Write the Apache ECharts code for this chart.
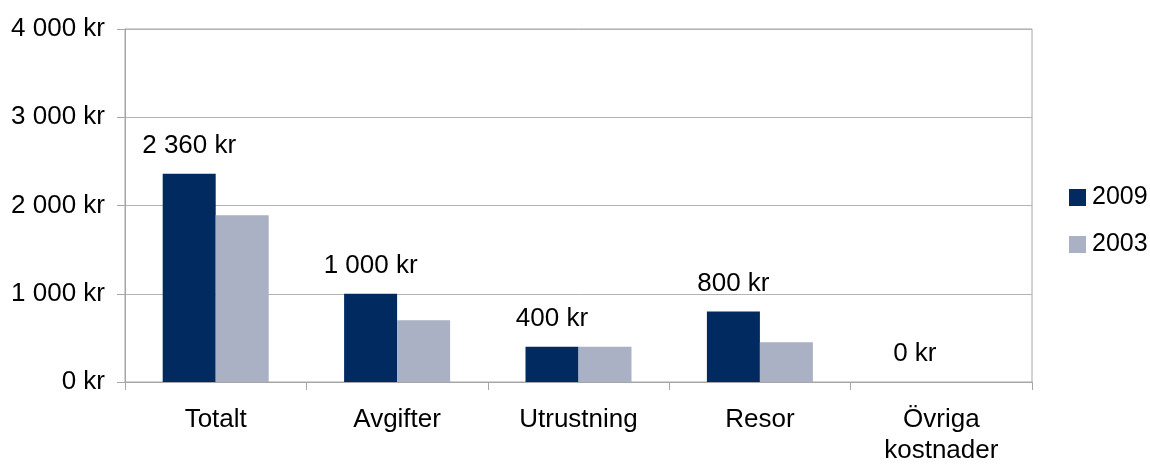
<!DOCTYPE html>
<html>
<head>
<meta charset="utf-8">
<script src="https://cdn.jsdelivr.net/npm/echarts@6/dist/echarts.min.js"></script>
<style>
  html, body { margin: 0; padding: 0; background: #fff; }
  #chart { width: 1150px; height: 466px; }
</style>
</head>
<body>
<div id="chart"></div>
<script>
// data
var categories = ['Totalt', 'Avgifter', 'Utrustning', 'Resor', 'Övriga\nkostnader'];
var seriesNames = ['2009', '2003'];
var values2009 = [2360, 1000, 400, 800, 0];
var values2003 = [1890, 700, 400, 450, 0];
var yTicks = [0, 1000, 2000, 3000, 4000];

// 2 360 kr style
function kr(v) {
  return String(v).replace(/\B(?=(\d{3})+(?!\d))/g, ' ') + ' kr';
}

var chart = echarts.init(document.getElementById('chart'));
var font = '"Liberation Sans", Arial, sans-serif';

chart.setOption({
  animation: false,
  textStyle: { fontFamily: font },
  grid: {
    left: 125, right: 118, top: 29, bottom: 81,
    show: true, borderColor: '#a6a6a6', borderWidth: 1
  },
  legend: {
    orient: 'vertical',
    left: 1069, top: 185,
    padding: 0,
    itemWidth: 17, itemHeight: 17, itemGap: 22,
    icon: 'rect',
    data: seriesNames,
    textStyle: { fontSize: 25, lineHeight: 25, color: '#000', fontFamily: font, padding: [0, 0, 0, 1] }
  },
  xAxis: {
    type: 'category',
    data: categories,
    boundaryGap: true,
    axisLine: { lineStyle: { color: '#a6a6a6', width: 1 } },
    axisTick: { show: true, length: 8, lineStyle: { color: '#a6a6a6' } },
    axisLabel: { fontSize: 26, color: '#000', margin: 22, lineHeight: 31, fontFamily: font, interval: 0 }
  },
  yAxis: {
    type: 'value',
    min: yTicks[0], max: yTicks[yTicks.length - 1], interval: 1000,
    axisLine: { show: true, lineStyle: { color: '#a6a6a6', width: 1 } },
    axisTick: { show: true, length: 8, lineStyle: { color: '#a6a6a6' } },
    splitLine: { lineStyle: { color: '#b3b3b3', width: 1 } },
    axisLabel: { fontSize: 26, color: '#000', margin: 20, fontFamily: font, formatter: kr }
  },
  series: [
    {
      name: seriesNames[0],
      type: 'bar',
      data: values2009,
      barWidth: 53,
      barGap: '0%',
      itemStyle: { color: '#002a60' },
      label: {
        show: true, position: 'top', distance: 15,
        fontSize: 26, color: '#000', fontFamily: font,
        formatter: function (p) { return kr(p.value); }
      }
    },
    {
      name: seriesNames[1],
      type: 'bar',
      data: values2003,
      barWidth: 53,
      barGap: '0%',
      itemStyle: { color: '#aab1c5' }
    }
  ]
});
</script>
</body>
</html>
